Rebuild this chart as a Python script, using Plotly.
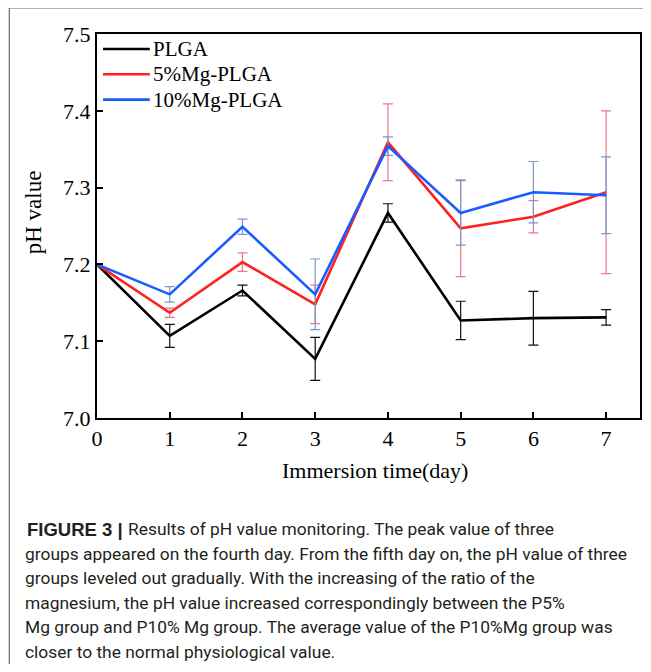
import plotly.graph_objects as go

days = [0, 1, 2, 3, 4, 5, 6, 7]
plga = [7.200, 7.107, 7.166, 7.077, 7.267, 7.127, 7.130, 7.131]
plga_err = [0.0, 0.015, 0.007, 0.028, 0.012, 0.025, 0.035, 0.010]
mg5 = [7.200, 7.137, 7.203, 7.148, 7.359, 7.247, 7.262, 7.294]
mg5_err = [0.0, 0.006, 0.012, 0.025, 0.050, 0.063, 0.021, 0.106]
mg10 = [7.200, 7.161, 7.249, 7.161, 7.354, 7.267, 7.294, 7.290]
mg10_err = [0.0, 0.010, 0.010, 0.046, 0.012, 0.042, 0.040, 0.050]

names = ["PLGA", "5%Mg-PLGA", "10%Mg-PLGA"]
line_colors = ["#000000", "#ff2020", "#1a5cff"]
err_colors = ["#111111", "#e87a85", "#7a97cc"]

caption_label = "FIGURE 3 |"
caption_lines = [
    "Results of pH value monitoring. The peak value of three",
    "groups appeared on the fourth day. From the fifth day on, the pH value of three",
    "groups leveled out gradually. With the increasing of the ratio of the",
    "magnesium, the pH value increased correspondingly between the P5%",
    "Mg group and P10% Mg group. The average value of the P10%Mg group was",
    "closer to the normal physiological value.",
]

fig = go.Figure()
for ys, es, nm, lc, ec in zip([plga, mg5, mg10], [plga_err, mg5_err, mg10_err],
                              names, line_colors, err_colors):
    fig.add_trace(go.Scatter(
        x=days, y=ys, name=nm, mode="lines", showlegend=False,
        line=dict(color=lc, width=2.6),
        error_y=dict(type="data", array=es, visible=True, color=ec,
                     thickness=1.2, width=5),
    ))

# reference-pixel geometry (page has an 8px body margin)
OFF = 8
W, H = 651 - 2 * OFF, 672 - 2 * OFF
PL, PR, PT, PB = 97, 642, 34, 418
L, R, T, B = PL - OFF, (W + OFF) - PR, PT - OFF, (H + OFF) - PB
pw, ph = PR - PL, PB - PT
XMAX = (PR - PL) / 73.0  # keeps ~73 px per day as in the reference

def px(x):
    return (x - PL) / pw

def py(y):
    return (PB - y) / ph

serif = "Liberation Serif, Times New Roman, serif"

# outer frame (left and top edges)
fig.add_shape(type="line", xref="paper", yref="paper",
              x0=px(9), x1=px(9), y0=py(8), y1=py(700),
              line=dict(color="#666666", width=1.2))
fig.add_shape(type="line", xref="paper", yref="paper",
              x0=px(9), x1=px(700), y0=py(8), y1=py(8),
              line=dict(color="#666666", width=1.2))

# legend (drawn manually to match row spacing)
for i, (nm, lc) in enumerate(zip(names, line_colors)):
    yy = 49 + 25.3 * i
    fig.add_shape(type="line", xref="paper", yref="paper",
                  x0=px(103), x1=px(150), y0=py(yy), y1=py(yy),
                  line=dict(color=lc, width=2.6))
    fig.add_annotation(xref="paper", yref="paper", x=px(151), y=py(yy),
                       text=nm, showarrow=False, xanchor="left", yanchor="middle",
                       font=dict(family=serif, size=21, color="#000"))

cap_font = dict(family="Roboto, Liberation Sans", size=17.4, color="#231f20")
fig.add_annotation(xref="paper", yref="paper", x=px(25), y=py(529),
                   text="<b>" + caption_label + "</b>", showarrow=False,
                   xanchor="left", yanchor="middle",
                   font=dict(family="Liberation Sans, Arial", size=18.5, color="#231f20"))
for i, t in enumerate(caption_lines):
    fig.add_annotation(
        xref="paper", yref="paper", x=px(126 if i == 0 else 23), y=py(529 + 24.5 * i),
        text=t, showarrow=False, xanchor="left", yanchor="middle",
        font=cap_font,
    )

fig.add_annotation(xref="paper", yref="paper", x=px(376), y=py(470),
                   text="Immersion time(day)", showarrow=False,
                   xanchor="center", yanchor="middle",
                   font=dict(family=serif, size=22, color="#000"))
fig.add_annotation(xref="paper", yref="paper", x=px(33), y=py(212),
                   text="pH value", showarrow=False, textangle=-90,
                   xanchor="center", yanchor="middle",
                   font=dict(family=serif, size=23, color="#000"))

axis_font = dict(family=serif, size=22, color="#000")
fig.update_layout(
    width=W, height=H,
    margin=dict(l=L, r=R, t=T, b=B),
    paper_bgcolor="white", plot_bgcolor="white",
    font=axis_font,
    showlegend=False,
    xaxis=dict(range=[0, XMAX], tickvals=days, ticks="inside", ticklen=6,
               tickwidth=1.5, tickcolor="#000", showline=True, linecolor="#000",
               linewidth=2, mirror=True, showgrid=False, zeroline=False,
               tickfont=axis_font),
    yaxis=dict(range=[7.0, 7.5], tickvals=[7.0, 7.1, 7.2, 7.3, 7.4, 7.5],
               ticktext=["7.0", "7.1", "7.2", "7.3", "7.4", "7.5"],
               ticks="inside", ticklen=6, tickwidth=1.5, tickcolor="#000",
               showline=True, linecolor="#000", linewidth=2, mirror=True,
               showgrid=False, zeroline=False,
               tickfont=axis_font),
)

fig.write_html("out.html")
